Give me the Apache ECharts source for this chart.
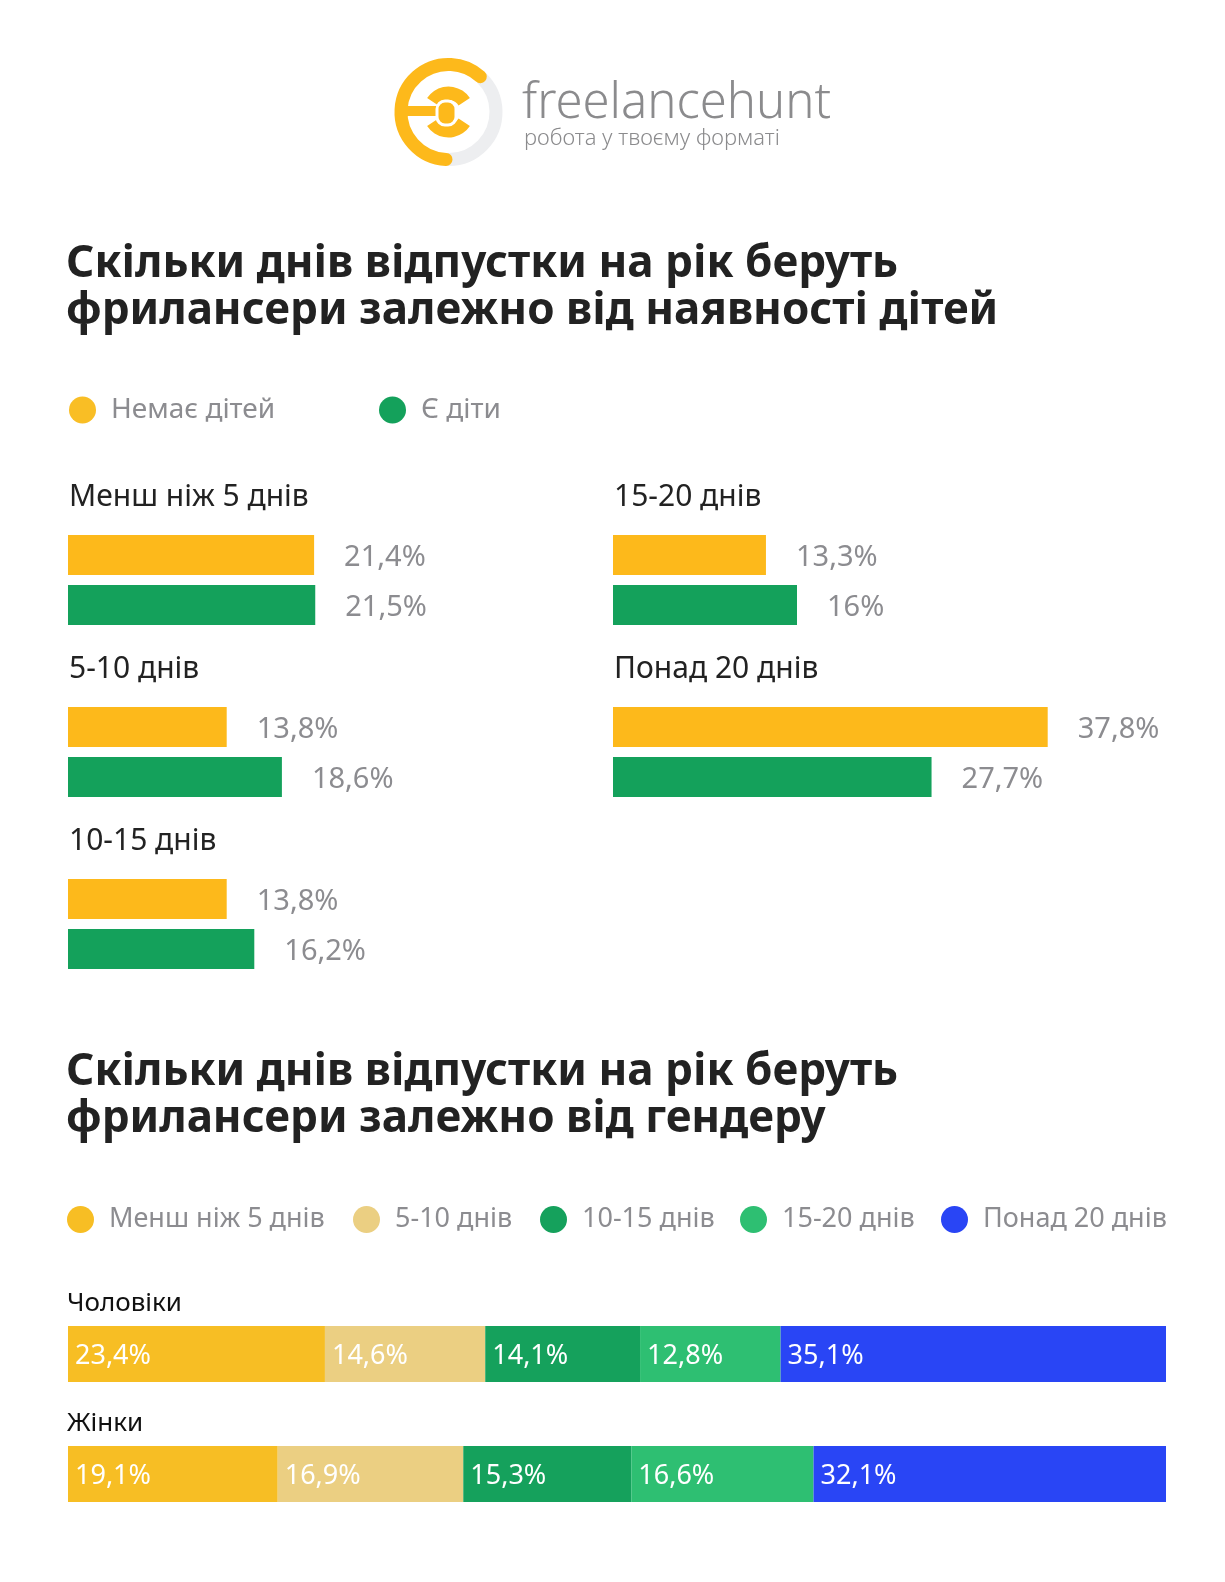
<!DOCTYPE html>
<html>
<head>
<meta charset="utf-8">
<script src="https://cdn.jsdelivr.net/npm/echarts@6.0.0/dist/echarts.min.js"></script>
<style>
  html, body { margin: 0; padding: 0; background: #ffffff; }
  #chart { width: 1225px; height: 1582px; }
</style>
</head>
<body>
<div id="chart"></div>
<script>
// ---- data ----
const ageCats = ['Менш ніж 5 днів', '5-10 днів', '10-15 днів', '15-20 днів', 'Понад 20 днів'];
const groupNames = ['Немає дітей', 'Є діти'];
const noKids = [21.4, 13.8, 13.8, 13.3, 37.8];
const withKids = [21.5, 18.6, 16.2, 16, 27.7];

const genders = ['Чоловіки', 'Жінки'];
const lt5 = [23.4, 19.1];
const d5to10 = [14.6, 16.9];
const d10to15 = [14.1, 15.3];
const d15to20 = [12.8, 16.6];
const gt20 = [35.1, 32.1];

const title1 = 'Скільки днів відпустки на рік беруть\nфрилансери залежно від наявності дітей';
const title2 = 'Скільки днів відпустки на рік беруть\nфрилансери залежно від гендеру';
const brandName = 'freelancehunt';
const brandSlogan = 'робота у твоєму форматі';

// ---- styling ----
const FONT = '"Noto Sans", "DejaVu Sans", sans-serif';
const YELLOW = '#FDB91B';
const GREEN = '#14A15B';
const GRAY_TXT = '#8c8c90';
const DARK = '#222222';
const stackColors = ['#F7BE24', '#EBCF82', '#15A15C', '#2EBF72', '#2945F5'];
const stackNames = ageCats;
const stackData = [lt5, d5to10, d10to15, d15to20, gt20];

const fmt = v => String(v).replace('.', ',') + '%';

// positions of the small panels (left column rows 1-3, right column rows 1-2)
const panelPos = [
  { left: 68, top: 530 },
  { left: 68, top: 702 },
  { left: 68, top: 874 },
  { left: 613, top: 530 },
  { left: 613, top: 702 }
];

const grids = [], xAxes = [], yAxes = [], series = [], titles = [];

titles.push({
  text: title1, left: 66, top: 241, padding: 0,
  textStyle: { fontFamily: FONT, fontWeight: 'bold', fontSize: 44, lineHeight: 47, color: DARK }
});
titles.push({
  text: title2, left: 66, top: 1049, padding: 0,
  textStyle: { fontFamily: FONT, fontWeight: 'bold', fontSize: 44, lineHeight: 47, color: DARK }
});

ageCats.forEach((cat, i) => {
  const p = panelPos[i];
  grids.push({ left: p.left, top: p.top, width: 460, height: 100, containLabel: false });
  xAxes.push({ type: 'value', gridIndex: i, min: 0, max: 40, show: false });
  yAxes.push({ type: 'category', gridIndex: i, data: groupNames, inverse: true, show: false });
  const lbl = {
    show: true, position: 'right', distance: 30, offset: [0, 3],
    fontFamily: FONT, fontSize: 29, color: GRAY_TXT,
    formatter: prm => fmt(prm.value)
  };
  series.push({
    type: 'bar', name: groupNames[0], xAxisIndex: i, yAxisIndex: i,
    data: [noKids[i], '-'], barWidth: 40, barGap: '-100%',
    itemStyle: { color: YELLOW }, label: lbl, silent: true
  });
  series.push({
    type: 'bar', name: groupNames[1], xAxisIndex: i, yAxisIndex: i,
    data: ['-', withKids[i]], barWidth: 40, barGap: '-100%',
    itemStyle: { color: GREEN }, label: lbl, silent: true
  });
  titles.push({
    text: cat, left: p.left + 1, top: p.top - 51, padding: 0,
    textStyle: { fontFamily: FONT, fontWeight: 'normal', fontSize: 30, lineHeight: 36, color: DARK }
  });
});

// stacked gender chart
const gIdx = grids.length;
grids.push({ left: 68, top: 1294, width: 1098, height: 240 });
xAxes.push({ type: 'value', gridIndex: gIdx, min: 0, max: 100, show: false });
yAxes.push({ type: 'category', gridIndex: gIdx, data: genders, inverse: true, show: false });
stackNames.forEach((nm, k) => {
  series.push({
    type: 'bar', name: nm, stack: 'gender', xAxisIndex: gIdx, yAxisIndex: gIdx,
    data: stackData[k], barWidth: 56,
    itemStyle: { color: stackColors[k] }, silent: true,
    label: {
      show: true, position: 'insideLeft', distance: 7, offset: [0, 2],
      fontFamily: FONT, fontSize: 27, color: '#ffffff',
      formatter: prm => fmt(prm.value)
    }
  });
});
genders.forEach((g, j) => {
  titles.push({
    text: g, left: 67, top: 1287 + j * 120, padding: 0,
    textStyle: { fontFamily: FONT, fontWeight: 'normal', fontSize: 26, lineHeight: 34, color: '#111111' }
  });
});

// legends
const topLegendText = { fontFamily: FONT, fontSize: 28, color: GRAY_TXT, padding: [0, 0, 0, 10] };
const botLegendText = { fontFamily: FONT, fontSize: 27, color: GRAY_TXT, padding: [0, 0, 0, 10] };
const legends = [];
const topLegendX = [69, 379];
groupNames.forEach((nm, k) => {
  legends.push({
    data: [{ name: nm, itemStyle: { color: k === 0 ? '#F9BE25' : GREEN } }],
    left: topLegendX[k], top: 396, padding: 0, icon: 'circle',
    itemWidth: 27, itemHeight: 27, textStyle: topLegendText, selectedMode: false
  });
});
const botLegendX = [67, 353, 540, 740, 941];
stackNames.forEach((nm, k) => {
  legends.push({
    data: [nm], left: botLegendX[k], top: 1206, padding: 0, icon: 'circle',
    itemWidth: 27, itemHeight: 27, textStyle: botLegendText, selectedMode: false
  });
});

// logo graphic
const deg = d => d * Math.PI / 180;
const LX = 448.5, LY = 112;
const LOGO_Y = '#FDB91B';
const graphic = [
  { type: 'arc', shape: { cx: LX, cy: LY, r: 47.5, startAngle: deg(-46), endAngle: deg(93), clockwise: true },
    style: { stroke: '#EDEEF0', lineWidth: 13, fill: null } },
  { type: 'arc', shape: { cx: LX, cy: LY, r: 47.5, startAngle: deg(93), endAngle: deg(312), clockwise: true },
    style: { stroke: LOGO_Y, lineWidth: 13, fill: null, lineCap: 'round' } },
  { type: 'rect', shape: { x: 406, y: 106, width: 31, height: 10 }, style: { fill: LOGO_Y } },
  { type: 'sector', shape: { cx: LX, cy: LY, r0: 12, r: 25.5, startAngle: deg(-147), endAngle: deg(-33) },
    style: { fill: LOGO_Y } },
  { type: 'sector', shape: { cx: LX, cy: LY, r0: 12, r: 25.5, startAngle: deg(33), endAngle: deg(147) },
    style: { fill: LOGO_Y } },
  { type: 'rect', shape: { x: 437, y: 101, width: 19, height: 24, r: 8 },
    style: { fill: LOGO_Y, stroke: '#ffffff', lineWidth: 3 } },
  { type: 'text', left: 522, top: 80,
    style: { text: brandName, font: '300 49px ' + FONT, fill: '#8b8b8d' } },
  { type: 'text', left: 524, top: 128,
    style: { text: brandSlogan, font: '300 22px ' + FONT, fill: '#8b8b8d' } }
];

const chart = echarts.init(document.getElementById('chart'), null, { renderer: 'canvas' });
chart.setOption({
  backgroundColor: '#ffffff',
  animation: false,
  title: titles,
  legend: legends,
  grid: grids,
  xAxis: xAxes,
  yAxis: yAxes,
  series: series,
  graphic: graphic
});
</script>
</body>
</html>
